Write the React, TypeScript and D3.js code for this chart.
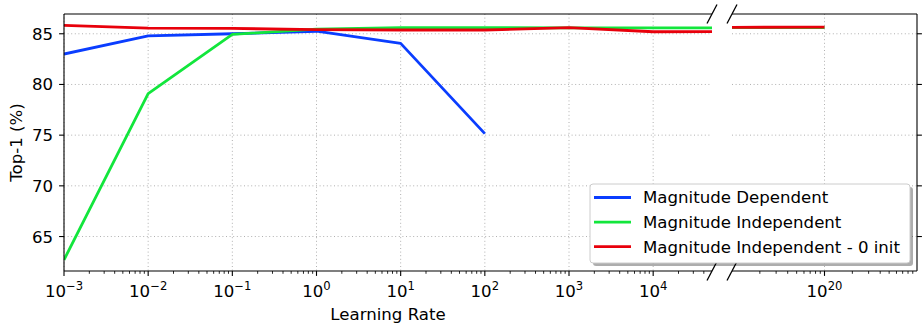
import React from "react";
import * as d3 from "d3";

// Learning rates as powers of ten
const lrExponents = [-3, -2, -1, 0, 1, 2, 3, 4, 20];

// Top-1 accuracy (%) per series; the magnitude-dependent run stops at 1e2
const magnitudeDependent = [83.0, 84.8, 85.0, 85.25, 84.05, 75.15];
const magnitudeIndependent = [62.7, 79.1, 84.94, 85.45, 85.6, 85.6, 85.58, 85.58, 85.62];
const magnitudeIndependentZeroInit = [85.83, 85.56, 85.53, 85.4, 85.37, 85.37, 85.6, 85.2, 85.66];

const seriesNames = ["Magnitude Dependent", "Magnitude Independent", "Magnitude Independent - 0 init"];
const seriesColors = ["#0a3dff", "#12e63c", "#e8000b"];
const seriesValues = [magnitudeDependent, magnitudeIndependent, magnitudeIndependentZeroInit];

const yTicks = [65, 70, 75, 80, 85];
const leftMajorExps = [-3, -2, -1, 0, 1, 2, 3, 4];
const rightMajorExps = [20];

const W = 923;
const H = 329;
const top = 14;
const bottom = 271;
const leftX0 = 64;
const leftX1 = 712;
const rightX0 = 732;
const rightX1 = 917;

const FONT = "'DejaVu Sans', sans-serif";
const FS = 16.6;

function minorTicks(e0: number, e1: number, lo: number, hi: number) {
  const out: number[] = [];
  for (let e = e0; e <= e1; e++) {
    for (let k = 2; k <= 9; k++) {
      const v = k * Math.pow(10, e);
      if (v > lo && v < hi) out.push(v);
    }
  }
  return out;
}

function PowLabel({ x, y, exp }: { x: number; y: number; exp: number }) {
  const expStr = exp < 0 ? "\u2212" + Math.abs(exp) : String(exp);
  return (
    <text x={x} y={y} textAnchor="middle" fontFamily={FONT} fontSize={FS} fill="#000">
      <tspan>10</tspan>
      <tspan fontSize={FS * 0.7} dy={-7}>{expStr}</tspan>
    </text>
  );
}

export default function App() {
  const y = d3.scaleLinear().domain([61.6, 86.95]).range([bottom, top]);
  const xL = d3.scaleLog().domain([1e-3, 5e4]).range([leftX0, leftX1]);
  const xR = d3.scaleLog().domain([1e19, 1e21]).range([rightX0, rightX1]);

  const panels = [
    { id: "pl", x: xL, x0: leftX0, x1: leftX1, majors: leftMajorExps, minors: minorTicks(-3, 4, 1e-3, 5e4) },
    { id: "pr", x: xR, x0: rightX0, x1: rightX1, majors: rightMajorExps, minors: minorTicks(19, 20, 1e19, 1e21) },
  ];

  const grid = "#b0b0b0";
  const dash = "1,2.6";

  const legX = 590;
  const legY = 184;
  const legW = 320;
  const legH = 79;

  return (
    <svg
      width={W}
      height={H}
      style={{ position: "absolute", left: 0, top: 0, background: "#fff" }}
      xmlns="http://www.w3.org/2000/svg"
    >
      <defs>
        {panels.map((p) => (
          <clipPath id={p.id + "clip"} key={p.id}>
            <rect x={p.x0} y={top} width={p.x1 - p.x0} height={bottom - top} />
          </clipPath>
        ))}
      </defs>
      <rect x={0} y={0} width={W} height={H} fill="#fff" />

      {panels.map((p) => {
        const line = d3
          .line<[number, number]>()
          .x((d) => p.x(d[0]))
          .y((d) => y(d[1]));
        return (
          <g key={p.id}>
            {/* grid */}
            {yTicks.map((t) => (
              <line key={"gy" + t} x1={p.x0} x2={p.x1} y1={y(t)} y2={y(t)} stroke={grid} strokeWidth={1} strokeDasharray={dash} />
            ))}
            {p.majors.map((e) => (
              <line key={"gx" + e} x1={p.x(Math.pow(10, e))} x2={p.x(Math.pow(10, e))} y1={top} y2={bottom} stroke={grid} strokeWidth={1} strokeDasharray={dash} />
            ))}
            {/* series */}
            <g clipPath={`url(#${p.id}clip)`}>
              {seriesValues.map((vals, i) => {
                const pts: [number, number][] = vals.map((v, j) => [Math.pow(10, lrExponents[j]), v]);
                return (
                  <path key={i} d={line(pts) || ""} fill="none" stroke={seriesColors[i]} strokeWidth={2.8} strokeLinejoin="round" />
                );
              })}
            </g>
            {/* spines */}
            <line x1={p.x0} x2={p.x1} y1={top} y2={top} stroke="#000" strokeWidth={1.1} />
            <line x1={p.x0} x2={p.x1} y1={bottom} y2={bottom} stroke="#000" strokeWidth={1.1} />
            {/* x ticks */}
            {p.majors.map((e) => {
              const xx = p.x(Math.pow(10, e));
              return (
                <g key={"xt" + e}>
                  <line x1={xx} x2={xx} y1={bottom} y2={bottom + 4.9} stroke="#000" strokeWidth={1.1} />
                  <PowLabel x={xx} y={297} exp={e} />
                </g>
              );
            })}
            {p.minors.map((v, k) => (
              <line key={"mt" + k} x1={p.x(v)} x2={p.x(v)} y1={bottom} y2={bottom + 2.8} stroke="#000" strokeWidth={0.85} />
            ))}
          </g>
        );
      })}

      {/* left y axis */}
      <line x1={leftX0} x2={leftX0} y1={top} y2={bottom} stroke="#000" strokeWidth={1.1} />
      {yTicks.map((t) => (
        <g key={"yl" + t}>
          <line x1={leftX0 - 4.9} x2={leftX0} y1={y(t)} y2={y(t)} stroke="#000" strokeWidth={1.1} />
          <text x={leftX0 - 11} y={y(t)} dy="0.36em" textAnchor="end" fontFamily={FONT} fontSize={FS} fill="#000">
            {t}
          </text>
        </g>
      ))}
      {/* right y axis */}
      <line x1={rightX1} x2={rightX1} y1={top} y2={bottom} stroke="#000" strokeWidth={1.1} />
      {yTicks.map((t) => (
        <line key={"yr" + t} x1={rightX1} x2={rightX1 + 4.9} y1={y(t)} y2={y(t)} stroke="#000" strokeWidth={1.1} />
      ))}

      {/* axis break marks */}
      {[leftX1, rightX0].map((bx) =>
        [top, bottom].map((by) => (
          <line key={bx + "-" + by} x1={bx - 5} y1={by + 9.5} x2={bx + 5} y2={by - 9.5} stroke="#000" strokeWidth={1.3} />
        ))
      )}

      {/* axis titles */}
      <text x={(leftX0 + leftX1) / 2} y={320} textAnchor="middle" fontFamily={FONT} fontSize={FS} fill="#000">
        Learning Rate
      </text>
      <text
        transform={`translate(22, ${(top + bottom) / 2}) rotate(-90)`}
        textAnchor="middle"
        fontFamily={FONT}
        fontSize={FS}
        fill="#000"
      >
        Top-1 (%)
      </text>

      {/* legend */}
      <rect x={legX + 3} y={legY + 3} width={legW} height={legH} rx={3} fill="#000" fillOpacity={0.32} />
      <rect x={legX} y={legY} width={legW} height={legH} rx={3} fill="#fff" stroke="#cccccc" strokeWidth={1} />
      {seriesNames.map((name, i) => {
        const ly = legY + 13.5 + i * 24.6;
        return (
          <g key={name}>
            <line x1={legX + 4} x2={legX + 41} y1={ly} y2={ly} stroke={seriesColors[i]} strokeWidth={2.8} />
            <text x={legX + 53} y={ly} dy="0.36em" fontFamily={FONT} fontSize={FS} fill="#000">
              {name}
            </text>
          </g>
        );
      })}
    </svg>
  );
}
